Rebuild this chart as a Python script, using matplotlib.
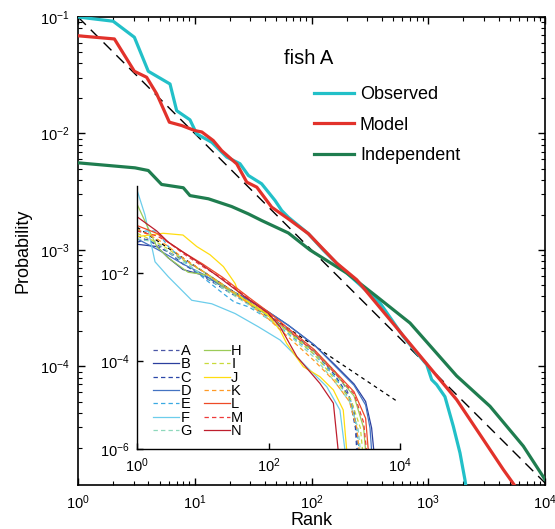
import numpy as np
import matplotlib
matplotlib.use('Agg')
import matplotlib.pyplot as plt
from matplotlib.ticker import LogLocator, NullFormatter, NullLocator

plt.rcParams['font.family'] = ['Liberation Sans', 'DejaVu Sans']
plt.rcParams['mathtext.fontset'] = 'custom'
plt.rcParams['mathtext.rm'] = 'Liberation Sans'
plt.rcParams['mathtext.it'] = 'Liberation Sans:italic'
plt.rcParams['axes.unicode_minus'] = True

# ---------------- main panel data ----------------
obs_rank = [1, 2.0, 3.04, 4.0, 6.14, 7.0, 9.1, 10.4, 14.0, 18.8, 24.4, 28.8, 37.4, 48.7,
            55.6, 63.3, 94, 126, 187, 386, 611, 796, 970, 1070, 1180, 1390, 1640, 1870, 2060, 2150]
obs_p = [0.1, 0.092, 0.067, 0.0342, 0.0266, 0.0157, 0.0131, 0.0099, 0.0084, 0.00627, 0.0055,
         0.00436, 0.0037, 0.00266, 0.00218, 0.00191, 0.00138, 0.001, 0.000676, 0.000351,
         0.000181, 0.000131, 0.000104, 7.7e-5, 6.98e-5, 5.5e-5, 3.06e-5, 1.81e-5, 1.07e-5, 8e-6]

model_rank = [1, 2.05, 3.04, 3.87, 4.72, 6.06, 7.73, 10.0, 11.5, 14.4, 17.0, 22.9, 27.9, 34.0,
              45.6, 63.3, 94, 164, 244, 470, 908, 1750, 2960, 4400, 5500]
model_p = [0.069, 0.0648, 0.0342, 0.0304, 0.0219, 0.0125, 0.0117, 0.0106, 0.0103, 0.0087,
           0.00713, 0.00548, 0.00382, 0.00346, 0.00233, 0.00185, 0.00138, 0.000772, 0.000555,
           0.000252, 0.000114, 5.19e-5, 2.36e-5, 1.3e-5, 9.5e-6]

indep_rank = [1, 3.08, 4.0, 5.2, 7.98, 9.1, 13.1, 20.7, 28.8, 37.4, 63.3, 97, 200, 361, 698,
              1750, 3380, 6520, 10000]
indep_p = [0.0056, 0.00507, 0.00481, 0.00365, 0.00342, 0.00293, 0.00275, 0.00236, 0.00204,
           0.00179, 0.00140, 0.001, 0.000634, 0.000399, 0.000236, 8.3e-5, 4.55e-5, 2.07e-5, 1.07e-5]

ref_rank = [1, 10000]
ref_p = [0.1, 1e-5]

main_labels = ['Observed', 'Model', 'Independent']

# ---------------- inset data (fish A-N) ----------------
fish_names = ['A', 'B', 'C', 'D', 'E', 'F', 'G', 'H', 'I', 'J', 'K', 'L', 'M', 'N']

rank_A = [1, 2, 3, 5, 10, 20, 50, 100, 200, 500, 1000, 1500, 2000, 2300]
p_A = [0.07, 0.045, 0.03, 0.02, 0.011, 0.0055, 0.0022, 0.0011, 5e-4, 1.7e-4, 6e-5, 2.5e-5, 8e-6, 9e-7]
rank_B = [1, 2, 3, 5, 10, 20, 50, 100, 200, 500, 1000, 2000, 3000, 3700, 4000]
p_B = [0.045, 0.04, 0.022, 0.012, 0.009, 0.005, 0.0025, 0.0013, 6.5e-4, 2.3e-4, 8.5e-5, 3e-5, 1.2e-5, 3e-6, 9e-7]
rank_C = [1, 1.5, 2, 3, 5, 10, 20, 50, 100, 200, 500, 1000, 1700, 2100, 2200]
p_C = [0.05, 0.06, 0.04, 0.03, 0.016, 0.0085, 0.0045, 0.002, 0.001, 4.8e-4, 1.6e-4, 5e-5, 1.5e-5, 3e-6, 9e-7]
rank_D = [1, 2, 3, 5, 10, 20, 50, 100, 200, 500, 1000, 2000, 3000, 3500, 3700]
p_D = [0.06, 0.035, 0.025, 0.016, 0.0095, 0.005, 0.0024, 0.0013, 6.5e-4, 2.3e-4, 8e-5, 2.8e-5, 1e-5, 3e-6, 9e-7]
rank_E = [1, 2, 3, 5, 10, 20, 30, 50, 100, 200, 500, 1000, 1800, 2200, 2400]
p_E = [0.09, 0.09, 0.04, 0.02, 0.008, 0.0035, 0.0022, 0.0017, 9e-4, 4.2e-4, 1.4e-4, 4.5e-5, 1.2e-5, 3e-6, 9e-7]
rank_F = [1, 1.32, 1.88, 3, 6.8, 13.7, 31, 70, 150, 380, 770, 1220, 1460]
p_F = [0.77, 0.21, 0.018, 0.0082, 0.0024, 0.002, 0.0012, 6e-4, 3e-4, 7.4e-5, 2.6e-5, 7.7e-6, 9e-7]
rank_G = [1, 2, 3, 5, 10, 20, 50, 100, 200, 500, 1000, 1700, 2300, 2500]
p_G = [0.06, 0.05, 0.03, 0.018, 0.009, 0.0045, 0.0019, 9e-4, 4e-4, 1.2e-4, 3.5e-5, 1.2e-5, 3e-6, 9e-7]
rank_H = [1, 1.5, 2, 3, 6, 12, 20, 50, 100, 200, 500, 1000, 2000, 2800, 3000]
p_H = [0.37, 0.1, 0.04, 0.022, 0.0104, 0.009, 0.005, 0.0021, 1.05e-3, 4.8e-4, 1.6e-4, 5.5e-5, 1.6e-5, 3e-6, 9e-7]
rank_I = [1, 2, 3, 5, 10, 20, 50, 100, 200, 500, 1000, 1800, 2500, 2700]
p_I = [0.08, 0.05, 0.035, 0.02, 0.011, 0.0055, 0.0022, 1.05e-3, 4.6e-4, 1.4e-4, 4e-5, 1.3e-5, 3e-6, 9e-7]
rank_J = [1, 2.5, 5, 8.1, 12.9, 20.6, 31, 37, 94, 150, 189, 338, 605, 970, 1370, 1550]
p_J = [0.067, 0.08, 0.073, 0.04, 0.026, 0.014, 0.0058, 0.0029, 0.0012, 5e-4, 2.5e-4, 7.4e-5, 4.4e-5, 2.2e-5, 7.7e-6, 9e-7]
rank_K = [1, 2, 3, 5, 10, 20, 50, 100, 200, 500, 1000, 1700, 2200, 2400]
p_K = [0.1, 0.06, 0.04, 0.022, 0.011, 0.0055, 0.002, 9e-4, 3.5e-4, 1e-4, 3.5e-5, 1.2e-5, 3e-6, 9e-7]
rank_L = [1, 2, 3, 5, 10, 20, 50, 100, 200, 500, 1000, 2000, 3000, 3300]
p_L = [0.12, 0.08, 0.05, 0.03, 0.016, 0.008, 0.0028, 1.3e-3, 5.5e-4, 1.8e-4, 6e-5, 2e-5, 5e-6, 9e-7]
rank_M = [1, 2, 3, 5, 10, 20, 50, 100, 200, 500, 1000, 2000, 2800, 3100]
p_M = [0.09, 0.07, 0.05, 0.028, 0.014, 0.0075, 0.0026, 1.2e-3, 5e-4, 1.6e-4, 5.5e-5, 1.8e-5, 4e-6, 9e-7]
rank_N = [1, 2, 3, 5, 10, 20, 50, 100, 150, 270, 605, 970, 1150]
p_N = [0.19, 0.09, 0.05, 0.03, 0.015, 0.007, 0.0025, 0.0012, 6e-4, 1.26e-4, 3.1e-5, 1.1e-5, 9e-7]

ref2_rank = [1, 9000]
ref2_p = [0.11, 1.22e-5]

fish_ranks = [rank_A, rank_B, rank_C, rank_D, rank_E, rank_F, rank_G,
              rank_H, rank_I, rank_J, rank_K, rank_L, rank_M, rank_N]
fish_probs = [p_A, p_B, p_C, p_D, p_E, p_F, p_G, p_H, p_I, p_J, p_K, p_L, p_M, p_N]
fish_colors = ['#4A57A6', '#2B3F9E', '#2A47A8', '#4473C2', '#3AA9E2', '#6CCDEB', '#8ED8BC',
               '#9CCB58', '#C9DA3A', '#FFDD10', '#FF9A26', '#EE4A26', '#EE3A3A', '#BE1E2D']
fish_styles = ['--', '-', '--', '-', '--', '-', '--', '-', '--', '-', '--', '-', '--', '-']

# ---------------- figure ----------------
W, H = 555, 529
fig = plt.figure(figsize=(W / 100, H / 100), dpi=100)
ax = fig.add_axes([78 / W, 1 - 485 / H, 467 / W, 468 / H])

c_obs, c_mod, c_ind = '#22C0C8', '#E2322B', '#1F7D4F'
ax.plot(ref_rank, ref_p, color='black', lw=1.0, dashes=(8, 5), zorder=2)
l1, = ax.plot(obs_rank, obs_p, color=c_obs, lw=2.3, zorder=3)
l2, = ax.plot(model_rank, model_p, color=c_mod, lw=2.3, zorder=4)
l3, = ax.plot(indep_rank, indep_p, color=c_ind, lw=2.3, zorder=3)

ax.set_xscale('log')
ax.set_yscale('log')
ax.set_xlim(1, 1e4)
ax.set_ylim(9.6e-6, 0.1)
ax.set_xticks([1, 10, 100, 1000, 10000])
ax.set_yticks([1e-4, 1e-3, 1e-2, 1e-1])
for a in (ax.xaxis, ax.yaxis):
    a.set_minor_locator(LogLocator(base=10, subs=np.arange(2, 10), numticks=30))
    a.set_minor_formatter(NullFormatter())
ax.tick_params(which='both', direction='in', top=True, right=True, labelsize=10.5, pad=6)
ax.tick_params(which='major', length=5, width=1)
ax.tick_params(which='minor', length=3, width=0.8)
for s in ax.spines.values():
    s.set_linewidth(1.2)
ax.set_xlabel('Rank', fontsize=13, labelpad=0)
ax.set_ylabel('Probability', fontsize=13, labelpad=6)

ax.text(0.441, 0.912, 'fish A', transform=ax.transAxes, fontsize=14.5, va='center', ha='left')
leg = ax.legend([l1, l2, l3], main_labels, loc='upper left', bbox_to_anchor=(0.505, 0.852),
                frameon=False, fontsize=13, handlelength=2.2, handletextpad=0.35,
                labelspacing=0.74, borderpad=0, borderaxespad=0)

# ---------------- inset ----------------
ins = fig.add_axes([137 / W, 1 - 449 / H, 263 / W, 263 / H])
ins.patch.set_alpha(0)
ins.plot(ref2_rank, ref2_p, color='black', lw=0.9, dashes=(3, 3), zorder=1)
handles = []
for r, p, c, st, nm in zip(fish_ranks, fish_probs, fish_colors, fish_styles, fish_names):
    h, = ins.plot(r, p, color=c, ls=st, lw=0.9, label=nm,
                  dashes=(3.5, 2.5) if st == '--' else (None, None))
    handles.append(h)
ins.set_xscale('log')
ins.set_yscale('log')
ins.set_xlim(1, 1e4)
ins.set_ylim(1e-6, 0.95)
ins.set_xticks([1, 100, 10000])
ins.set_yticks([1e-6, 1e-4, 1e-2])
ins.xaxis.set_minor_locator(NullLocator())
ins.yaxis.set_minor_locator(NullLocator())
ins.spines['top'].set_visible(False)
ins.spines['right'].set_visible(False)
for s in ('left', 'bottom'):
    ins.spines[s].set_linewidth(1.0)
ins.tick_params(direction='in', length=4, width=1, labelsize=10.5, pad=5)
ins.legend(handles=handles, ncol=2, loc='upper left', bbox_to_anchor=(0.06, 0.40),
           frameon=False, fontsize=10.5, handlelength=1.8, handletextpad=0.1,
           labelspacing=-0.04, columnspacing=0.8, borderpad=0, borderaxespad=0)

fig.savefig('out.png', dpi=100)
